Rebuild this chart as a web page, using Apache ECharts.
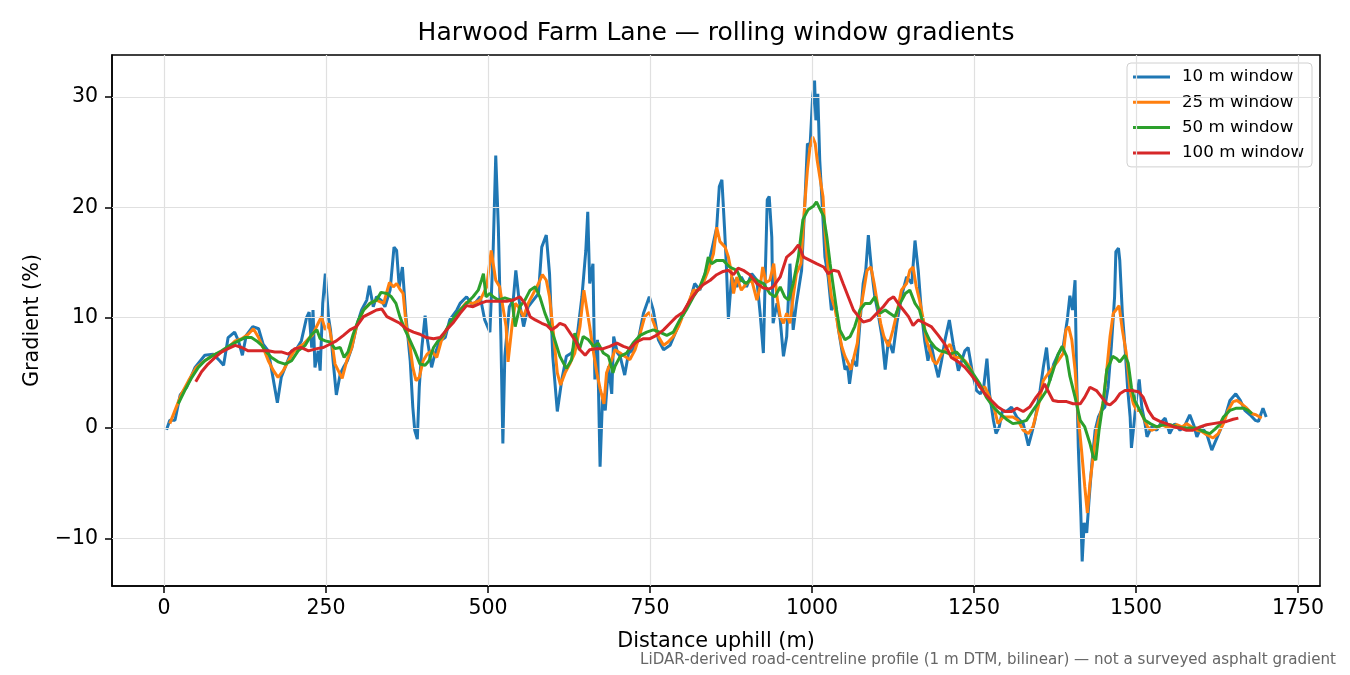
<!DOCTYPE html>
<html>
<head>
  <meta charset="UTF-8" />
  <title>Harwood Farm Lane — rolling window gradients</title>
  <script src="https://cdn.jsdelivr.net/npm/echarts@6.0.0/dist/echarts.min.js"></script>
  <style>
    html, body { margin: 0; height: 100%; background: #fff; }
    #chart { width: 1350px; height: 675px; }
  </style>
</head>
<body>
  <div id="chart"></div>
  <script>
    // [distance uphill (m), gradient (%)]
    const win10 = [
      [4,-0.15],[9,0.7],[17,0.7],[25,3],[35,3.7],[48,5.5],[63,6.6],[76,6.7],[86,6.1],[92,5.7],[99,8.2],[109,8.7],
      [115,7.9],[121,6.6],[127,8.4],[137,9.2],[146,9],[153,7.6],[161,7],[169,4.3],[175,2.3],[181,4.6],[189,5.8],
      [197,7],[205,7.2],[212,7.9],[220,10],[224,10.5],[228,7.3],[230,10.7],[233,5.5],[238,7],[241,5.2],[245,11.3],
      [249,14],[254,10],[257,8.9],[261,6.1],[266,3],[272,4.9],[277,5.5],[283,6.1],[290,7.3],[297,9.2],[305,10.7],
      [313,11.6],[317,12.9],[323,11],[328,11.9],[335,11.6],[341,11],[349,12.5],[355,16.4],[359,16.1],[363,12.8],
      [368,14.6],[373,10.4],[380,6.1],[384,1.9],[387,-0.2],[391,-1],[394,3.7],[398,7.3],[403,10.2],[406,8.2],
      [413,5.5],[418,6.7],[426,7.9],[434,8.2],[441,9.8],[452,10.7],[457,11.3],[467,11.9],[477,11.1],[488,11.9],
      [495,9.8],[503,8.7],[508,16.1],[512,24.7],[516,18.2],[520,8],[523,-1.4],[526,6.5],[533,11],[539,11.6],
      [543,14.3],[548,11.6],[555,9.2],[562,11],[570,11.6],[578,12.2],[583,16.4],[590,17.5],[595,14],[600,6.5],
      [607,1.5],[614,4.4],[621,6.5],[629,6.8],[637,8],[645,11.9],[651,16.1],[654,19.6],[657,13.1],[662,14.9],
      [665,4.4],[669,8],[673,-3.5],[677,3.1],[681,1.6],[686,5.6],[691,3.1],[694,8.3],[700,6.8],[704,6.5],
      [711,4.8],[717,6.8],[724,7.1],[732,8],[740,10.4],[749,11.9],[755,10.7],[763,8],[771,7.1],[781,7.5],
      [791,8.9],[801,10.4],[812,11.6],[819,13.1],[827,12.5],[835,14],[843,15.5],[853,18.2],[857,21.9],[861,22.5],
      [865,18.2],[868,14.6],[871,9.9],[876,13.7],[884,12.8],[891,13.7],[899,12.8],[907,14],[915,13.4],[920,10.4],
      [925,6.8],[928,14],[931,20.7],[934,21],[938,17.3],[940,9.5],[946,11.3],[951,9.8],[956,6.5],[961,8.3],
      [966,14.9],[971,8.9],[976,11.3],[984,14.3],[989,20.4],[993,25.8],[997,25.5],[1001,30],[1004,31.5],
      [1006,27.9],[1009,30.3],[1012,24.3],[1017,18.9],[1020,15.5],[1025,13.7],[1030,10.7],[1036,11.3],[1041,8.9],
      [1046,7.1],[1051,5.3],[1055,5.6],[1058,4],[1063,6.2],[1069,5.6],[1074,9.5],[1079,13.1],[1083,14.3],
      [1087,17.5],[1092,14.3],[1097,11.9],[1102,10.4],[1108,8.3],[1113,5.3],[1118,8],[1125,6.8],[1131,9.5],
      [1138,11.9],[1146,13.7],[1154,13.1],[1159,17],[1164,14.3],[1169,10.4],[1174,7.9],[1179,6.1],[1184,7.6],
      [1190,5.8],[1195,4.6],[1200,6.1],[1205,7.9],[1212,9.8],[1218,7.6],[1226,5.2],[1231,6.1],[1236,7],[1241,7.3],
      [1248,4.9],[1254,3.4],[1260,3.1],[1265,3.7],[1270,6.3],[1274,3.1],[1280,0.7],[1284,-0.5],[1289,0.1],
      [1294,1.6],[1300,1.5],[1308,1.9],[1316,1],[1326,0.4],[1334,-1.6],[1339,-0.5],[1344,0.7],[1352,3.4],
      [1357,5.5],[1362,7.3],[1367,4.3],[1373,5.8],[1380,6.7],[1388,7.5],[1394,9.8],[1398,12],[1402,10.7],
      [1406,13.4],[1408,5.9],[1411,-1.7],[1415,-8],[1417,-12.1],[1420,-8.6],[1424,-9.5],[1428,-6.2],[1432,-3.2],
      [1437,-0.2],[1442,1],[1447,1.6],[1452,1.9],[1457,3.7],[1462,7.4],[1467,11.9],[1469,16],[1473,16.3],
      [1475,15.2],[1479,10.4],[1483,7.4],[1487,3.7],[1491,1],[1493,-1.8],[1497,0.4],[1501,2.8],[1505,4.4],
      [1509,1.9],[1514,0.4],[1517,-0.8],[1524,0.1],[1532,-0.2],[1540,0.6],[1545,0.9],[1552,-0.5],[1560,0.4],
      [1568,-0.2],[1576,0.3],[1583,1.2],[1589,0.3],[1594,-0.8],[1601,0.1],[1609,-0.5],[1617,-2],[1622,-1.3],
      [1630,-0.2],[1637,0.9],[1645,2.5],[1654,3.1],[1661,2.5],[1668,1.6],[1676,1.2],[1684,0.7],[1689,0.6],
      [1693,1.3],[1696,1.8],[1701,1]
    ];
    const win25 = [
      [9,0.4],[17,1.6],[27,3.1],[38,4.3],[50,5.5],[63,6.1],[76,6.6],[89,6.9],[99,7.3],[110,7.9],[120,8.1],[130,8.5],
      [138,9],[146,8.2],[153,7.3],[161,6.1],[169,5.2],[176,4.6],[184,5.2],[192,6.1],[200,6.9],[207,7.3],[215,7.6],
      [223,8.1],[229,8.4],[233,8.9],[238,9.5],[243,10.1],[249,8.9],[254,9.5],[259,7.9],[264,5.8],[269,5.2],
      [275,4.5],[282,6.1],[290,7.3],[297,9.2],[308,10.7],[318,11.3],[328,11.6],[339,11.3],[348,13.2],[354,12.8],
      [359,13.1],[364,12.6],[369,12.2],[374,9.2],[380,7.3],[384,5.5],[389,4.3],[394,4.6],[400,6.1],[406,6.7],
      [413,7],[421,6.4],[428,7.9],[436,8.9],[447,9.8],[457,10.7],[467,11.4],[477,11.3],[488,11.6],[498,12.8],
      [505,16.1],[508,16.1],[512,13.4],[518,12.8],[523,11],[528,9.2],[531,6],[537,9.2],[542,11.3],[547,11],
      [555,10.1],[562,11.3],[570,12.2],[578,13.1],[584,13.9],[590,13.4],[595,11.9],[601,8.6],[607,5],[612,3.9],
      [619,5],[627,5.9],[634,6.8],[642,9.2],[648,12.5],[652,11],[657,9.2],[663,6.8],[668,5],[673,3.6],[679,2.2],
      [683,5],[691,6.2],[696,7.1],[704,6.8],[711,6.5],[719,6.2],[727,7.1],[735,8.6],[742,10.1],[749,10.5],
      [756,9.5],[763,8.3],[771,7.5],[778,7.8],[786,8.3],[794,9.2],[801,10.2],[809,11.3],[817,12.5],[825,12.5],
      [832,13.1],[840,14.3],[848,15.8],[853,18.2],[858,16.9],[866,16.4],[871,15.5],[875,14.3],[879,12.2],
      [884,13.7],[891,12.5],[899,13.1],[907,13.4],[915,11.6],[920,12.8],[924,14.6],[929,13.2],[935,13.4],
      [941,14.9],[946,11.9],[951,10.1],[956,9.5],[961,10.4],[966,9.5],[971,11.9],[976,14],[983,14.9],[989,20.4],
      [993,23.4],[997,25.5],[1001,26.4],[1005,25.8],[1008,24.3],[1012,22.8],[1017,21],[1020,17.9],[1025,14.3],
      [1030,11.9],[1036,10.7],[1041,8.9],[1046,7.4],[1051,6.5],[1056,5.9],[1060,5.3],[1065,6.5],[1070,7.7],
      [1075,10.7],[1080,12.5],[1085,14.3],[1091,14.6],[1096,13.1],[1101,11.3],[1106,9.5],[1111,8.3],[1118,7.4],
      [1125,8.9],[1131,10.4],[1138,12.5],[1146,13.1],[1151,14.3],[1156,14.6],[1161,12.8],[1166,11.6],[1172,9.8],
      [1177,7.9],[1182,7],[1187,6.1],[1192,5.8],[1200,6.7],[1208,7.3],[1213,7.6],[1220,6.4],[1228,6.4],[1236,6.1],
      [1244,5.5],[1251,4.6],[1259,3.7],[1267,3.7],[1274,2.8],[1282,1.6],[1287,0.4],[1295,1],[1303,1],[1310,1],
      [1318,0.7],[1326,-0.2],[1334,-0.5],[1341,0.1],[1349,1.9],[1357,4.3],[1364,4.9],[1372,5.5],[1380,6.1],
      [1388,6.8],[1392,8.9],[1396,9.2],[1401,8],[1406,5.3],[1411,1],[1416,-2],[1421,-5.3],[1425,-7.7],[1429,-5],
      [1434,-2.6],[1439,-0.2],[1444,1],[1450,2.5],[1455,5.3],[1460,8.3],[1465,10.4],[1469,10.7],[1474,11.1],
      [1479,8.9],[1485,6.8],[1491,3.4],[1496,2.2],[1501,1.6],[1506,1.6],[1511,1],[1518,0.1],[1524,-0.2],[1532,0],
      [1540,0.3],[1547,0.1],[1555,0.1],[1563,0.3],[1571,0.1],[1578,0.4],[1586,0.1],[1594,-0.2],[1601,-0.3],
      [1609,-0.6],[1619,-0.9],[1627,-0.5],[1635,0.4],[1642,1.6],[1650,2.4],[1656,2.5],[1663,2.2],[1671,1.8],
      [1679,1.3],[1685,1.2],[1694,0.9]
    ];
    const win50 = [
      [22,2.2],[32,3.4],[43,4.6],[53,5.5],[63,6.1],[76,6.6],[89,7],[102,7.5],[115,7.9],[125,8.2],[135,8.2],
      [143,7.9],[151,7.5],[158,6.9],[166,6.4],[176,6],[187,5.8],[197,6.1],[207,7],[218,7.5],[228,8.5],[236,8.9],
      [241,8.1],[249,7.9],[256,7.8],[264,7.2],[272,7.3],[278,6.4],[284,6.9],[292,8.5],[300,9.8],[308,10.7],
      [318,11.3],[328,11.6],[335,12.3],[344,12.2],[351,11.9],[358,11.3],[364,10.1],[372,8.9],[380,7.9],[387,7],
      [395,5.8],[403,5.7],[409,6.1],[416,7.3],[423,7.9],[431,8.4],[441,9.5],[452,10.4],[462,11],[467,11.3],
      [477,11.9],[485,12.5],[490,13.4],[493,14],[497,11.9],[503,12.2],[508,11.9],[516,11.6],[526,11.8],[537,11.6],
      [542,9.2],[549,11],[557,11.6],[565,12.5],[573,12.8],[580,11.9],[588,10.4],[596,9.2],[603,8],[611,6.5],
      [621,5.4],[629,6.2],[634,8.6],[641,7.1],[647,8.3],[655,8],[663,7.4],[670,7.7],[678,6.8],[686,6.5],[693,5],
      [696,5.6],[704,6.5],[714,6.8],[724,7.7],[735,8.4],[745,8.7],[755,8.9],[765,8.7],[776,8.4],[786,8.7],
      [796,9.8],[807,10.8],[817,11.9],[827,12.8],[835,14],[840,15.5],[845,14.9],[853,15.2],[863,15.2],[873,14.6],
      [884,14.3],[891,13.4],[899,13.1],[907,13.6],[915,13.4],[925,13.1],[935,12.2],[943,11.9],[951,12.8],
      [958,11.9],[964,11.6],[971,13.1],[979,15.5],[986,18.9],[994,19.8],[1002,20.1],[1007,20.5],[1012,19.9],
      [1018,19.2],[1023,17.3],[1028,14.9],[1033,12.8],[1038,10.7],[1043,8.9],[1051,8],[1059,8.3],[1066,9.2],
      [1074,10.7],[1082,11.3],[1090,11.3],[1097,11.9],[1105,10.4],[1113,10.7],[1120,10.4],[1128,10.1],
      [1136,11.3],[1144,12.2],[1151,12.5],[1159,11.3],[1166,10.7],[1174,8.9],[1182,7.9],[1190,7.3],[1197,7],
      [1205,6.9],[1213,6.7],[1223,6.9],[1231,6.4],[1238,5.8],[1249,4.9],[1259,4],[1269,2.8],[1280,1.9],[1290,1.3],
      [1300,0.8],[1310,0.4],[1321,0.5],[1331,0.7],[1341,1.6],[1352,2.5],[1362,3.4],[1372,5.2],[1380,6.7],
      [1386,7.4],[1393,6.5],[1398,4.7],[1406,2.8],[1414,0.7],[1421,0.1],[1429,-1.4],[1434,-2.6],[1438,-2.9],
      [1443,-0.2],[1449,2.2],[1455,5.3],[1460,5.9],[1464,6.5],[1470,6.3],[1475,6],[1483,6.6],[1488,5.9],
      [1493,3.7],[1498,2.5],[1506,1.6],[1514,0.7],[1522,0.4],[1532,0.1],[1542,0.3],[1553,0.3],[1563,0.1],
      [1573,0],[1583,0],[1594,0],[1604,-0.3],[1614,-0.5],[1622,-0.1],[1629,0.3],[1635,1],[1645,1.6],[1655,1.8],
      [1666,1.8],[1673,1.6],[1679,1.3]
    ];
    const win100 = [
      [49,4.2],[58,5.1],[68,5.8],[79,6.4],[89,6.9],[99,7.2],[110,7.5],[120,7.3],[130,7],[140,7],[151,7],[161,7],
      [171,6.9],[181,6.9],[192,6.7],[202,7.2],[212,7.3],[223,7],[236,7.2],[246,7.3],[256,7.6],[266,7.9],[277,8.4],
      [287,8.9],[297,9.2],[308,10.1],[318,10.4],[328,10.7],[336,10.8],[344,10.1],[354,9.8],[364,9.5],[374,9],
      [385,8.7],[395,8.5],[405,8.2],[416,8.1],[426,8.2],[436,8.9],[447,9.6],[457,10.4],[467,11.1],[477,11],
      [488,11.3],[498,11.5],[508,11.5],[519,11.5],[529,11.5],[539,11.6],[549,11.9],[557,11.3],[565,10.1],
      [573,9.8],[583,9.5],[591,9.3],[598,8.9],[606,9.2],[611,9.5],[619,9.3],[627,8.6],[634,8],[642,7.1],[650,6.6],
      [657,7.1],[668,7.2],[678,7.2],[688,7.4],[699,7.7],[709,7.4],[719,7.2],[729,7.8],[740,8.1],[750,8.1],
      [760,8.4],[771,8.9],[781,9.5],[791,10.1],[801,10.5],[812,11.6],[822,12.4],[832,13],[843,13.4],[853,13.9],
      [863,14.2],[871,14.3],[879,13.9],[886,14.5],[894,14.3],[904,13.9],[915,13.1],[925,12.7],[934,12.6],
      [940,12.8],[951,13.7],[961,15.5],[971,16],[979,16.6],[987,15.5],[997,15.2],[1007,14.9],[1018,14.6],
      [1025,14],[1033,14.3],[1041,14.2],[1048,13.1],[1056,11.9],[1064,10.7],[1072,10.1],[1079,9.6],[1090,9.8],
      [1100,10.4],[1110,11],[1118,11.6],[1126,11.9],[1133,11.3],[1141,10.7],[1149,10.1],[1156,9.3],[1164,9.8],
      [1174,9.5],[1184,9.2],[1195,8.4],[1205,7.6],[1215,6.4],[1226,6],[1236,5.5],[1246,4.8],[1256,4],[1267,3.1],
      [1277,2.5],[1287,1.9],[1298,1.5],[1308,1.5],[1316,1.8],[1326,1.5],[1336,1.9],[1346,2.8],[1354,3.4],
      [1359,4],[1364,3.4],[1372,2.5],[1380,2.4],[1393,2.4],[1403,2.2],[1414,2.2],[1421,2.8],[1429,3.7],
      [1439,3.4],[1447,2.8],[1455,2.2],[1460,2.1],[1468,2.5],[1475,3.1],[1483,3.4],[1493,3.4],[1504,3.3],
      [1511,2.8],[1519,1.6],[1527,0.9],[1537,0.6],[1547,0.4],[1558,0.1],[1568,0],[1578,-0.2],[1588,-0.2],
      [1599,0.1],[1609,0.3],[1619,0.4],[1630,0.5],[1640,0.6],[1650,0.8],[1658,0.9]
    ];
    const seriesNames = ['10 m window', '25 m window', '50 m window', '100 m window'];
    const seriesColors = ['#1f77b4', '#ff7f0e', '#2ca02c', '#d62728'];
    const xTicks = [0, 250, 500, 750, 1000, 1250, 1500, 1750];
    const yTicks = [-10, 0, 10, 20, 30];

    const FONT = '"DejaVu Sans", sans-serif';
    const chart = echarts.init(document.getElementById('chart'));

    const minus = v => (v < 0 ? '\u2212' + Math.abs(v) : String(v));

    const lineSeries = [win10, win25, win50, win100].map((d, i) => ({
      name: seriesNames[i],
      type: 'line',
      data: d,
      symbol: 'none',
      showSymbol: false,
      animation: false,
      lineStyle: { color: seriesColors[i], width: 3 },
      itemStyle: { color: seriesColors[i] },
      z: 3 + i
    }));

    // grid lines at the tick positions
    const gridSeries = {
      type: 'line',
      data: [],
      silent: true,
      z: 1,
      markLine: {
        silent: true,
        animation: false,
        symbol: ['none', 'none'],
        label: { show: false },
        lineStyle: { color: '#e0e0e0', width: 1.2, type: 'solid' },
        data: xTicks.map(v => ({ xAxis: v })).concat(yTicks.map(v => ({ yAxis: v })))
      }
    };

    chart.setOption({
      backgroundColor: '#fff',
      animation: false,
      grid: {
        left: 112, right: 30, top: 55, bottom: 89,
        show: true, borderColor: '#000', borderWidth: 1.5,
        outerBoundsMode: 'none'
      },
      legend: {
        data: seriesNames.map(n => ({ name: n, icon: 'rect' })),
        orient: 'vertical',
        left: 1127,
        top: 63,
        padding: [5, 8, 5, 6],
        itemWidth: 37,
        itemHeight: 3,
        itemGap: 7.3,
        backgroundColor: '#fff',
        borderColor: '#d0d0d0',
        borderWidth: 1,
        borderRadius: 4,
        textStyle: { fontFamily: FONT, fontSize: 16.7, color: '#000', lineHeight: 18, padding: [0, 0, 0, 7] }
      },
      xAxis: {
        type: 'value',
        min: -80.2,
        max: 1784,
        name: 'Distance uphill (m)',
        nameLocation: 'middle',
        nameGap: 45,
        nameTextStyle: { fontFamily: FONT, fontSize: 20.8, color: '#000' },
        axisLine: { show: true, onZero: false, lineStyle: { color: '#000', width: 1.5 } },
        axisTick: { show: true, length: 7, lineStyle: { color: '#000', width: 1.5 }, customValues: xTicks },
        axisLabel: { fontFamily: FONT, fontSize: 20.5, color: '#000', margin: 12, customValues: xTicks, formatter: minus },
        splitLine: { show: false }
      },
      yAxis: {
        type: 'value',
        min: -14.32,
        max: 33.82,
        name: 'Gradient (%)',
        nameLocation: 'middle',
        nameRotate: 90,
        nameGap: 69,
        nameTextStyle: { fontFamily: FONT, fontSize: 20.8, color: '#000' },
        axisLine: { show: true, onZero: false, lineStyle: { color: '#000', width: 1.5 } },
        axisTick: { show: true, length: 7, lineStyle: { color: '#000', width: 1.5 }, customValues: yTicks },
        axisLabel: { fontFamily: FONT, fontSize: 20.5, color: '#000', margin: 14, customValues: yTicks, formatter: minus },
        splitLine: { show: false }
      },
      graphic: [
        {
          type: 'text', x: 716, y: 33, silent: true,
          style: {
            text: 'Harwood Farm Lane — rolling window gradients',
            font: '25px ' + FONT, fill: '#000',
            textAlign: 'center', textVerticalAlign: 'middle'
          }
        },
        {
          type: 'text', x: 1336, y: 660, silent: true,
          style: {
            text: 'LiDAR-derived road-centreline profile (1 m DTM, bilinear) — not a surveyed asphalt gradient',
            font: '15.1px ' + FONT, fill: '#666',
            textAlign: 'right', textVerticalAlign: 'middle'
          }
        }
      ],
      series: [gridSeries].concat(lineSeries)
    });
  </script>
</body>
</html>
